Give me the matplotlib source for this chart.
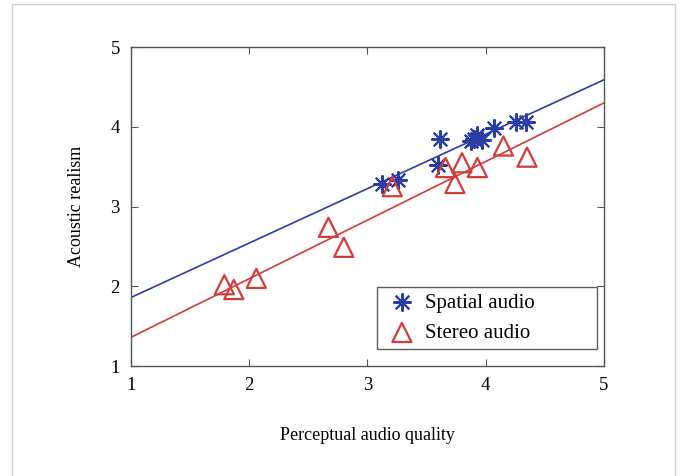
import numpy as np
import matplotlib.pyplot as plt
from matplotlib.patches import Rectangle

plt.rcParams['font.family'] = ['Liberation Serif', 'DejaVu Serif']

# Spatial audio points (stars)
spatial_x = [3.12, 3.26, 3.60, 3.61, 3.88, 3.93, 3.97, 3.90, 4.07, 4.26, 4.34]
spatial_y = [3.28, 3.33, 3.52, 3.85, 3.82, 3.90, 3.83, 3.85, 3.99, 4.06, 4.06]

# Stereo audio points (triangles)
stereo_x = [1.79, 1.87, 2.06, 2.67, 2.80, 3.21, 3.66, 3.74, 3.80, 3.93, 4.15, 4.35]
stereo_y = [2.02, 1.96, 2.10, 2.74, 2.49, 3.25, 3.49, 3.29, 3.55, 3.49, 3.76, 3.62]

# Fitted lines (values at x = 1 and x = 5)
fit_x = [1, 5]
spatial_fit = [1.86, 4.59]
stereo_fit = [1.36, 4.30]

blue = '#2b3ea6'
red = '#d63a3a'

fig = plt.figure(figsize=(6.82, 4.76), dpi=100)
ax = fig.add_axes([0.192, 0.231, 0.6935, 0.670])

ax.plot(fit_x, spatial_fit, color=blue, lw=1.2)
ax.plot(fit_x, stereo_fit, color=red, lw=1.2)
ax.scatter(spatial_x, spatial_y, marker=(8, 2, 0), s=150, color=blue, lw=1.5,
           label='Spatial audio', zorder=3)
ax.scatter(stereo_x, stereo_y, marker='^', s=190, facecolors='none',
           edgecolors=red, lw=1.6, label='Stereo audio', zorder=3)

ax.set_xlim(1, 5)
ax.set_ylim(1, 5)
ax.set_xticks([1, 2, 3, 4, 5])
ax.set_yticks([1, 2, 3, 4, 5])
ax.tick_params(direction='in', top=True, right=True, labelsize=13.5,
               length=5, color='#555555', pad=8)
for s in ax.spines.values():
    s.set_color('#555555')
    s.set_linewidth(1.0)

ax.set_xlabel('Perceptual audio quality', fontsize=13, labelpad=24)
ax.set_ylabel('Acoustic realism', fontsize=13, labelpad=18)

leg = ax.legend(loc='lower left', bbox_to_anchor=(0.52, 0.053, 0.465, 0.194),
                mode='expand', fontsize=15, frameon=True, fancybox=False,
                edgecolor='#333333', borderpad=0.3, handletextpad=0.2,
                borderaxespad=0.0, labelspacing=0.5, handlelength=1.8)
leg.get_frame().set_linewidth(1.0)

fig.patches.append(Rectangle((12 / 682, -0.05), 663 / 682, 1.05 - 4 / 476,
                             transform=fig.transFigure, fill=False,
                             edgecolor='#cccccc', lw=1.0))

fig.savefig('out.png', dpi=100, facecolor='white')
